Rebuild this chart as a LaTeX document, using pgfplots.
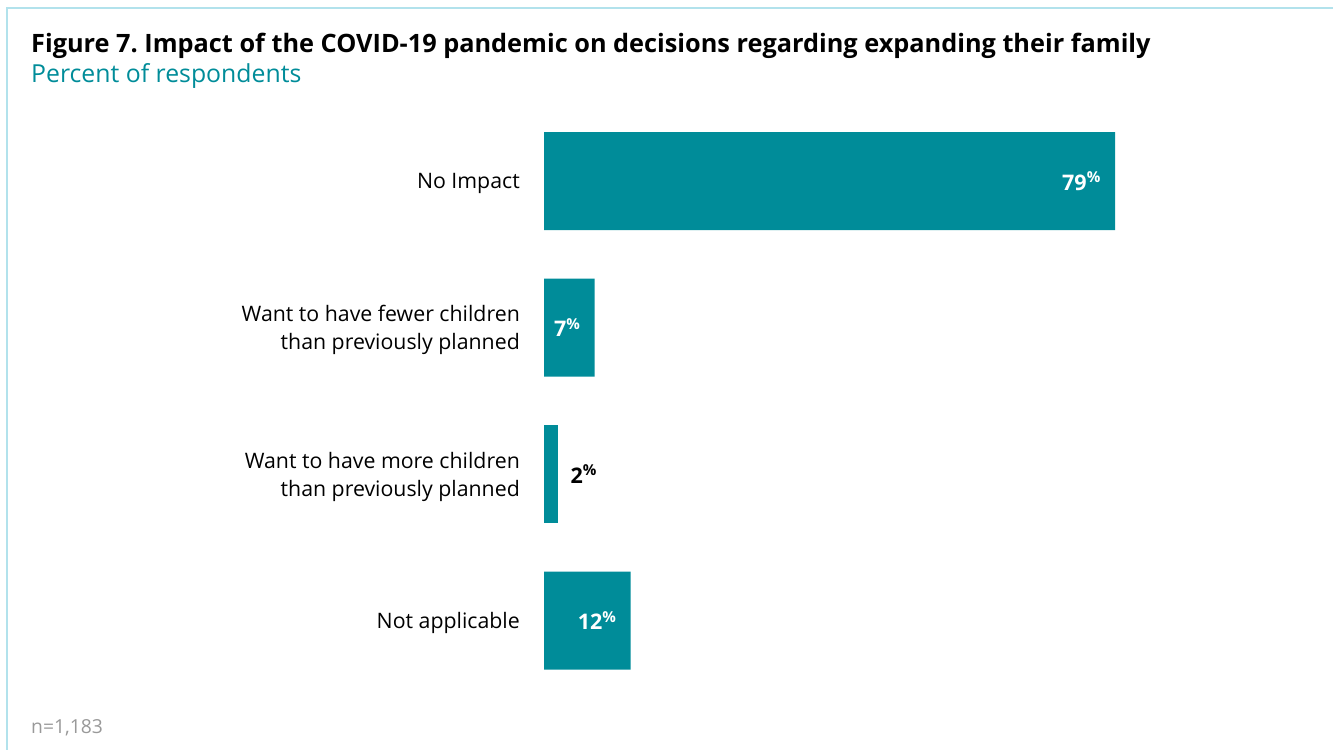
\documentclass[border=0pt]{standalone}
\usepackage{pgfplots}
\pgfplotsset{compat=1.18}
\usepackage{fontspec}
\setmainfont{Open Sans}
\definecolor{teal1}{HTML}{008C99}
\definecolor{frame}{HTML}{B2E2EC}
\definecolor{graytxt}{HTML}{999999}
\frenchspacing
\begin{document}
\begin{tikzpicture}
\useasboundingbox (0,0) rectangle (1333bp,750bp);
\draw[frame, line width=1.2bp] (7bp,0) -- (7bp,742bp) -- (1333bp,742bp);
\node[anchor=base west, inner sep=0pt, font=\fontsize{25.3bp}{28bp}\selectfont\bfseries] at (31bp,697bp) {Figure 7. Impact of the COVID-19 pandemic on decisions regarding expanding their family};
\node[anchor=base west, inner sep=0pt, text=teal1, font=\fontsize{24.8bp}{28bp}\selectfont] at (31bp,667bp) {Percent of respondents};
\node[anchor=base west, inner sep=0pt, text=graytxt, font=\fontsize{19.3bp}{22bp}\selectfont] at (31bp,17bp) {n=1,183};
\begin{axis}[
  at={(544bp,56.25bp)}, anchor=south west,
  scale only axis, width=722.8bp, height=586bp,
  xmin=0, xmax=100, ymin=-0.5, ymax=3.5, y dir=reverse,
  xbar, bar width=98bp, bar shift=0pt,
  axis x line=none,
  axis y line*=left, y axis line style={draw=none},
  major tick length=0pt,
  ytick={0,1,2,3},
  yticklabels={No Impact, {Want to have fewer children\\than previously planned}, {Want to have more children\\than previously planned}, Not applicable},
  yticklabel style={align=right, inner sep=0pt, xshift=-24bp, yshift=-2.5bp, font=\fontsize{21.3bp}{28bp}\selectfont},
  clip=false,
  /pgf/number format/assume math mode=true,
]
\addplot[fill=teal1, draw=none,
  nodes near coords={\textbf{\pgfmathprintnumber{\pgfplotspointmeta}}\textsuperscript{\textbf{\%}}},
  nodes near coords style={anchor=east, xshift=-14bp, text=white, inner sep=0pt, font=\fontsize{21.5bp}{26bp}\selectfont},
] coordinates {(79,0) (7,1) (12,3)};
\addplot[fill=teal1, draw=none,
  nodes near coords={\textbf{\pgfmathprintnumber{\pgfplotspointmeta}}\textsuperscript{\textbf{\%}}},
  nodes near coords style={anchor=west, xshift=12bp, text=black, inner sep=0pt, font=\fontsize{21.5bp}{26bp}\selectfont},
] coordinates {(2,2)};
\end{axis}
\end{tikzpicture}
\end{document}
